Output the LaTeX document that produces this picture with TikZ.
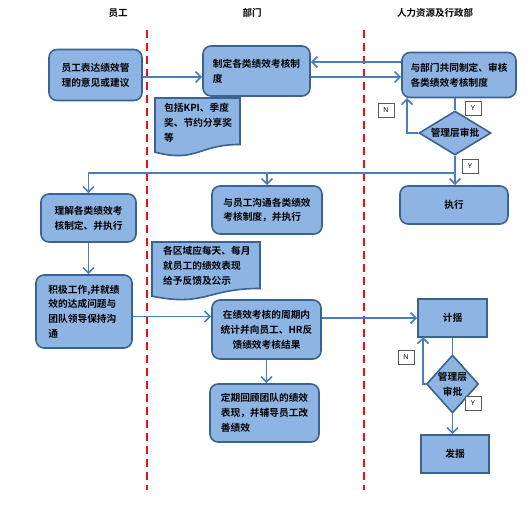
\documentclass[tikz,border=0pt]{standalone}
\usepackage{fontspec}
\setmainfont{Noto Sans CJK SC}[BoldFont={Noto Sans CJK SC Bold}]
\newfontfamily\latinf{Liberation Sans}
\usetikzlibrary{arrows.meta,shapes.geometric}
\definecolor{boxfill}{HTML}{8EB4E3}
\definecolor{boxline}{HTML}{3B6391}
\definecolor{arr}{HTML}{4A7EBB}
\definecolor{lanered}{HTML}{F01010}
\tikzset{
  txt/.style={font=\fontsize{9.7}{14.8}\selectfont\bfseries},
  rbox/.style={txt, draw=boxline, line width=1.6pt, fill=boxfill, rounded corners=8pt, inner sep=0pt, align=left},
  sbox/.style={txt, draw=boxline, line width=1.6pt, fill=boxfill, inner sep=0pt, align=center},
  dbox/.style={txt, shape=diamond, draw=boxline, line width=1.6pt, fill=boxfill, inner sep=0pt, align=center},
  docshape/.style={draw=boxline, line width=1.6pt, fill=boxfill},
  conn/.style={draw=arr, line width=1.6pt, -{Straight Barb[length=5.5pt,width=11pt,line width=1.6pt]}},
  plain/.style={draw=arr, line width=1.6pt},
  lbl/.style={draw=gray!70!black, fill=white, line width=0.6pt, font=\latinf\fontsize{7}{8}\selectfont, inner sep=0pt, minimum width=16pt, minimum height=14pt},
  lane/.style={draw=lanered, line width=1.5pt, dash pattern=on 8pt off 5pt},
  head/.style={font=\fontsize{9.5}{12}\selectfont\bfseries}
}
\begin{document}
\begin{tikzpicture}[x=1pt,y=-1pt]
\useasboundingbox (0,0) rectangle (531,516);
\fill[white] (0,0) rectangle (531,516);

% headings
\node[head] (h1) at (118,13) {员工};
\node[head] (h2) at (252,13) {部门};
\node[head] (h3) at (435,13) {人力资源及行政部};

% lanes
\draw[lane] (147,30) -- (147,490);
\draw[lane] (364,30) -- (364,490);

% boxes
\node[rbox, minimum width=93pt, minimum height=51pt] (A) at (95.5,75) {员工表达绩效管\\理的意见或建议};
\node[rbox, minimum width=107pt, minimum height=50pt] (B) at (256.5,71) {制定各类绩效考核制\\度};
\node[rbox, minimum width=114pt, minimum height=45pt] (C) at (459,75) {与部门共同制定、审核\\各类绩效考核制度};
\node[dbox, aspect=1.6, minimum width=72pt, minimum height=44pt] (D1) at (455,133) {管理层审批};

\node[rbox, minimum width=95pt, minimum height=48pt] (E) at (88.5,218) {理解各类绩效考\\核制定、并执行};
\node[rbox, minimum width=110pt, minimum height=48pt] (F) at (267,210) {与员工沟通各类绩效\\考核制度，并执行};
\node[rbox, minimum width=108pt, minimum height=38pt, align=center] (G) at (454,205) {执行};

\node[rbox, minimum width=96pt, minimum height=73pt] (H) at (84,311.5) {积极工作,并就绩\\效的达成问题与\\团队领导保持沟\\通};
\node[rbox, minimum width=109pt, minimum height=59pt, align=center] (I) at (266.5,329.5) {在绩效考核的周期内\\统计并向员工、HR反\\馈绩效考核结果};
\node[sbox, minimum width=69pt, minimum height=38pt] (J) at (452.5,318) {计揺};
\node[rbox, minimum width=109pt, minimum height=58pt] (K) at (264.5,413) {定期回顾团队的绩效\\表现，并辅导员工改\\善绩效};
\node[dbox, aspect=0.9, minimum width=52pt, minimum height=58pt] (D2) at (452.5,384) {管理层\\审批};
\node[sbox, minimum width=68pt, minimum height=38pt] (L) at (455,454) {发揺};

% documents
\path[docshape] (155,98) -- (240,98) -- (240,144.5) .. controls (197.5,144.5) and (197.5,163) .. (155,152.2) -- cycle;
\node[txt, anchor=north west, align=left, inner sep=0pt] (T1) at (164,103) {包括KPI、季度\\奖、节约分享奖\\等};
\path[docshape] (152,242) -- (260,242) -- (260,288.5) .. controls (206,288.5) and (206,307) .. (152,296.2) -- cycle;
\node[txt, anchor=north west, align=left, inner sep=0pt] (T2) at (163,246) {各区域应每天、每月\\就员工的绩效表现\\给予反馈及公示};

% connectors
\draw[conn] ([yshift=-2pt]A.east) -- ([yshift=-2pt]A.east -| B.west);
\draw[conn] ([yshift=-6pt]B.east) -- ([yshift=-6pt]B.east -| C.west);
\draw[conn] ([yshift=13pt]C.west) -- ([yshift=13pt]C.west -| B.east);
\draw[plain] (D1.north |- C.south) -- (D1.north);
\coordinate (n1) at (407,98);
\draw[conn] (D1.west) -| (n1);
\coordinate (split) at (455,173);
\draw[plain] (D1.south) -- (split);
\draw[conn] (split) -- (split |- G.north);
\draw[conn] (split) -| (E.north);
\draw[conn] (F.north |- split) -- (F.north);
\draw[conn] (E.south) -- (E.south |- H.north);
\draw[conn] ([yshift=-5pt]H.east) -- ([yshift=-5pt]H.east -| I.west);
\draw[conn] (I.east |- J.west) -- (J.west);
\draw[conn] (I.south) -- (I.south |- K.north);
\draw[plain] (J.south) -- (D2.north);
\coordinate (n2) at (423,337);
\draw[conn] (D2.west) -| (n2);
\draw[conn] (D2.south) -- (D2.south |- L.north);

% labels
\node[lbl] (N1) at (386,110) {N};
\node[lbl] (Y1) at (473,108) {Y};
\node[lbl] (Y2) at (470,166) {Y};
\node[lbl] (N2) at (406,357) {N};
\node[lbl] (Y3) at (473,403) {Y};
\end{tikzpicture}
\end{document}
